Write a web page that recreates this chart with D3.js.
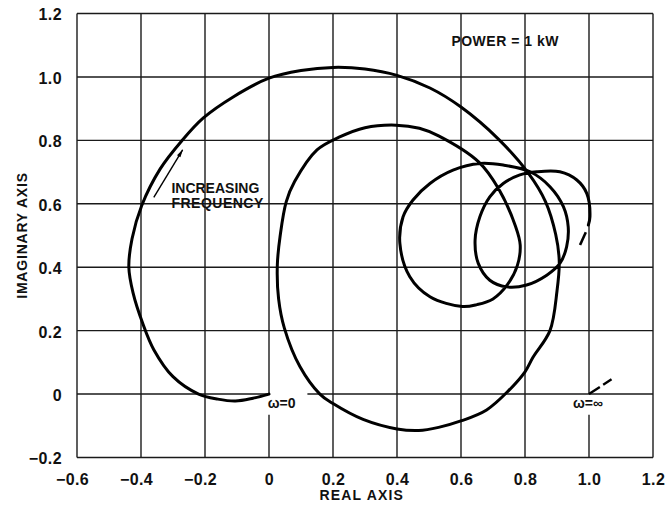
<!DOCTYPE html>
<html>
<head>
<meta charset="utf-8">
<script src="https://cdn.jsdelivr.net/npm/d3@7"></script>
<style>
  body { margin: 0; background: #fff; }
  text { font-family: "Liberation Sans", Arial, sans-serif; fill: #111; }
</style>
</head>
<body>
<div id="chart"></div>
<script>
const xTicks = [-0.6, -0.4, -0.2, 0, 0.2, 0.4, 0.6, 0.8, 1.0, 1.2];
const xTickLabels = ["\u22120.6", "\u22120.4", "\u22120.2", "0", "0.2", "0.4", "0.6", "0.8", "1.0", "1.2"];
const yTicks = [-0.2, 0, 0.2, 0.4, 0.6, 0.8, 1.0, 1.2];
const yTickLabels = ["\u22120.2", "0", "0.2", "0.4", "0.6", "0.8", "1.0", "1.2"];

// locus of the response, from omega = 0 (origin) spiralling inwards
const locus = [
  [0, 0], [-0.05, -0.013], [-0.105, -0.022], [-0.16, -0.016], [-0.22, 0.0],
  [-0.3, 0.055], [-0.36, 0.14], [-0.395, 0.224], [-0.425, 0.32], [-0.438, 0.40],
  [-0.428, 0.49], [-0.398, 0.594], [-0.34, 0.71], [-0.273, 0.798], [-0.206, 0.87],
  [-0.112, 0.937], [0, 0.996], [0.1, 1.02], [0.2, 1.03], [0.3, 1.025],
  [0.4, 1.005], [0.503, 0.965], [0.6, 0.905], [0.717, 0.804], [0.811, 0.696],
  [0.864, 0.607], [0.896, 0.503], [0.907, 0.419], [0.9, 0.325], [0.878, 0.2],
  [0.825, 0.116], [0.8, 0.07], [0.748, 0.01], [0.68, -0.05], [0.602, -0.084],
  [0.53, -0.105], [0.468, -0.115], [0.4, -0.11], [0.294, -0.08], [0.2, -0.03],
  [0.159, 0.0], [0.097, 0.086], [0.048, 0.208], [0.03, 0.3], [0.026, 0.406],
  [0.035, 0.5], [0.054, 0.607], [0.08, 0.67], [0.15, 0.77], [0.219, 0.81],
  [0.3, 0.84], [0.397, 0.848], [0.47, 0.838], [0.53, 0.814], [0.655, 0.732],
  [0.717, 0.648], [0.77, 0.53], [0.785, 0.47], [0.776, 0.405], [0.745, 0.345],
  [0.7, 0.3], [0.65, 0.282], [0.604, 0.276], [0.503, 0.307], [0.44, 0.37],
  [0.409, 0.475], [0.419, 0.559], [0.45, 0.612], [0.503, 0.664], [0.575, 0.706],
  [0.659, 0.727], [0.732, 0.722], [0.816, 0.701], [0.878, 0.654], [0.92, 0.591],
  [0.935, 0.527], [0.93, 0.464], [0.909, 0.412], [0.868, 0.375], [0.805, 0.344],
  [0.743, 0.338], [0.69, 0.359], [0.654, 0.412], [0.644, 0.485], [0.659, 0.559],
  [0.69, 0.622], [0.732, 0.664], [0.784, 0.691], [0.837, 0.701], [0.909, 0.701],
  [0.962, 0.675], [0.993, 0.633], [1.003, 0.559], [0.998, 0.533]
];
const locusEnd = [[0.99, 0.51], [0.972, 0.47]];
const infTail = [[1.0, 0.0], [1.075, 0.05]];
const arrowPts = [[-0.36, 0.62], [-0.27, 0.77]];

const width = 667, height = 514;
const margin = { top: 13.5, right: 14, bottom: 56.5, left: 77 };

const svg = d3.select("#chart").append("svg")
  .attr("width", width)
  .attr("height", height);

const x = d3.scaleLinear().domain([-0.6, 1.2]).range([margin.left, width - margin.right]);
const y = d3.scaleLinear().domain([-0.2, 1.2]).range([height - margin.bottom, margin.top]);

// grid, with the gaps left for the omega labels
const grid = svg.append("g")
  .attr("stroke", "#1a1a1a")
  .attr("stroke-width", 1.4)
  .attr("fill", "none");

xTicks.forEach(v => {
  let segs = [[-0.2, 1.2]];
  if (v === 0 || v === 1.0) segs = [[-0.2, -0.065], [0, 1.2]];
  segs.forEach(s => {
    grid.append("line")
      .attr("x1", x(v)).attr("x2", x(v))
      .attr("y1", y(s[0])).attr("y2", y(s[1]));
  });
});
yTicks.forEach(v => {
  let segs = [[-0.6, 1.2]];
  if (v === 0) segs = [[-0.6, 0], [0.12, 1.2]];
  segs.forEach(s => {
    grid.append("line")
      .attr("x1", x(s[0])).attr("x2", x(s[1]))
      .attr("y1", y(v)).attr("y2", y(v));
  });
});

// tick labels
const xAxis = svg.append("g")
  .attr("transform", `translate(0,${height - margin.bottom + 13})`)
  .call(d3.axisBottom(x).tickValues(xTicks).tickSize(0)
    .tickFormat((d, i) => xTickLabels[i]));
const yAxis = svg.append("g")
  .attr("transform", `translate(${margin.left - 12},0)`)
  .call(d3.axisLeft(y).tickValues(yTicks).tickSize(0)
    .tickFormat((d, i) => yTickLabels[i]));
[xAxis, yAxis].forEach(a => {
  a.select(".domain").remove();
  a.selectAll("text")
    .attr("font-family", "Liberation Sans, Arial, sans-serif")
    .attr("font-size", 16)
    .attr("font-weight", "bold")
    .attr("letter-spacing", 0.4)
    .attr("fill", "#111");
});
yAxis.selectAll("text").attr("dy", "0.4em");
// negative labels sit a little left of their line
xAxis.selectAll("text").attr("dx", d => d < 0 ? -5 : 0);

// the locus
const line = d3.line()
  .x(d => x(d[0]))
  .y(d => y(d[1]))
  .curve(d3.curveCatmullRom.alpha(0.5));

svg.append("path")
  .datum(locus)
  .attr("d", line)
  .attr("fill", "none")
  .attr("stroke", "#000")
  .attr("stroke-width", 3)
  .attr("stroke-linejoin", "round")
  .attr("stroke-linecap", "round");

svg.append("path")
  .datum(locusEnd)
  .attr("d", line)
  .attr("fill", "none")
  .attr("stroke", "#000")
  .attr("stroke-width", 2.6);

svg.append("path")
  .datum(infTail)
  .attr("d", line)
  .attr("fill", "none")
  .attr("stroke", "#000")
  .attr("stroke-width", 2.4)
  .attr("stroke-dasharray", "13,4,10,40");

// arrow for increasing frequency
svg.append("defs").append("marker")
  .attr("id", "arrow")
  .attr("viewBox", "0 0 10 6")
  .attr("refX", 9).attr("refY", 3)
  .attr("markerWidth", 10).attr("markerHeight", 5)
  .attr("markerUnits", "userSpaceOnUse")
  .attr("orient", "auto")
  .append("path")
  .attr("d", "M0,0.6 L10,3 L0,5.4 Z")
  .attr("fill", "#000");

svg.append("line")
  .attr("x1", x(arrowPts[0][0])).attr("y1", y(arrowPts[0][1]))
  .attr("x2", x(arrowPts[1][0])).attr("y2", y(arrowPts[1][1]))
  .attr("stroke", "#000")
  .attr("stroke-width", 1.4)
  .attr("marker-end", "url(#arrow)");

// annotations
const note = (t, px, py, anchor, size) => svg.append("text")
  .attr("x", px).attr("y", py)
  .attr("text-anchor", anchor || "start")
  .attr("font-size", size || 14)
  .attr("font-weight", "bold")
  .text(t);

note("INCREASING", x(-0.305), y(0.635));
note("FREQUENCY", x(-0.305), y(0.588)).attr("letter-spacing", 0.5);
note("POWER = 1 kW", x(0.57), y(1.098)).attr("letter-spacing", 0.5);
note("\u03c9=0", x(-0.004), y(-0.043), "start", 14);
note("\u03c9=\u221e", x(0.95), y(-0.043), "start", 14);

svg.append("text")
  .attr("x", x(0.29)).attr("y", height - 14)
  .attr("text-anchor", "middle")
  .attr("font-size", 14)
  .attr("font-weight", "bold")
  .attr("letter-spacing", 1.2)
  .text("REAL AXIS");

svg.append("text")
  .attr("transform", `translate(27,${y(0.5)}) rotate(-90)`)
  .attr("text-anchor", "middle")
  .attr("font-size", 14)
  .attr("font-weight", "bold")
  .attr("letter-spacing", 0.8)
  .text("IMAGINARY AXIS");
</script>
</body>
</html>
